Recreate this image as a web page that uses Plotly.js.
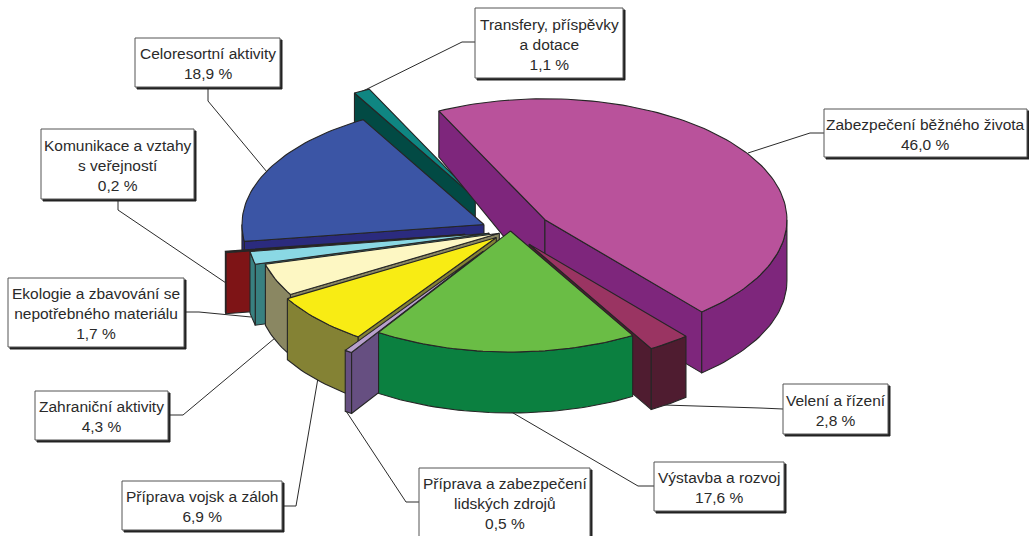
<!DOCTYPE html>
<html><head><meta charset="utf-8">
<script src="https://cdn.plot.ly/plotly-3.0.1.min.js"></script>
<style>html,body{margin:0;padding:0;background:#fff}#c{width:1029px;height:536px}</style>
</head><body><div id="c"></div>
<script>
var categories=['Zabezpečení běžného života','Velení a řízení','Výstavba a rozvoj','Příprava a zabezpečení<br>lidských zdrojů','Příprava vojsk a záloh','Zahraniční aktivity','Ekologie a zbavování se<br>nepotřebného materiálu','Komunikace a vztahy<br>s veřejností','Celoresortní aktivity','Transfery, příspěvky<br>a dotace'];
var values=[46.0,2.8,17.6,0.5,6.9,4.3,1.7,0.2,18.9,1.1];
var explode=[0.17,0.133,0,0.2,0.08,0.05,0.09,0.19,0.122,0.31];
var topColors=['#b9529b','#9a3462','#6abd45','#b8a0cc','#f8ec14','#fdf7c3','#8ad8e4','#8a1a1a','#3b55a5','#0f8682'];
var sideColors=['#7e267c','#4f1c30','#0b8040','#664f81','#848234','#8a8762','#388080','#7e1416','#2b2b7e','#024a44'];
var drawOrder=[9,0,8,7,6,5,4,3,1,2];
var boxes=[[824,109,1027,157],[783,384,888,434],[654,462,784,511],[419,468,590,537],[122,481,282,530],[35,391,168,440],[8,278,184,347],[41,129,194,199],[135,38,280,87],[475,8,623,78]];
var leaders=[[[824,133],[810,133],[748,153]],[[783,409],[760,408],[664,405]],[[654,486],[638,486],[508,410]],[[419,502],[406,502],[346,411]],[[282,506],[296,506],[318,378]],[[168,415],[183,415],[275,338]],[[184,312],[199,312],[251,317]],[[118,199],[118,210],[226,283]],[[208,87],[208,101],[267,172]],[[475,42],[462,42],[359,93]]];

var CX=510.5,CY=231,RX=242,RY=121,START=-26;
function depth(y){return Math.min(61,46+0.2*(y-111));}
function rad(d){return d*Math.PI/180;}
var traces=[],total=values.reduce(function(a,b){return a+b;},0),angles=[],acc=START;
values.forEach(function(v){var a=acc;acc+=v/total*360;angles.push([a,acc]);});
function poly(xs,ys,fill){traces.push({x:xs,y:ys,type:'scatter',mode:'lines',fill:'toself',fillcolor:fill,line:{color:'#262626',width:1.1},hoverinfo:'skip',showlegend:false});}
var shapes=[],annotations=[];
function R(b,dx,fill,lc){return {type:'rect',xref:'x',yref:'y',x0:b[0]+dx,y0:b[1]+dx,x1:b[2]+dx,y1:b[3]+dx,fillcolor:fill,line:{color:lc,width:1},layer:'above'};}
leaders.forEach(function(l){traces.push({x:l.map(function(p){return p[0];}),y:l.map(function(p){return p[1];}),type:'scatter',mode:'lines',line:{color:'#2a2a2a',width:1},hoverinfo:'skip',showlegend:false});});
drawOrder.forEach(function(i){
  var a0=angles[i][0],a1=angles[i][1],mid=rad((a0+a1)/2);
  var ax=CX+explode[i]*RX*Math.sin(mid),ay=CY-explode[i]*RY*Math.cos(mid);
  function P(t,r){return [ax+r*RX*Math.sin(rad(t)),ay-r*RY*Math.cos(rad(t))];}
  function wall(t){var xs=[],ys=[],bx=[],by=[];for(var k=0;k<=24;k++){var p=P(t,k/24);xs.push(p[0]);ys.push(p[1]);bx.unshift(p[0]);by.unshift(p[1]+depth(p[1]));}
    xs=xs.concat(bx);ys=ys.concat(by);xs.push(xs[0]);ys.push(ys[0]);poly(xs,ys,sideColors[i]);}
  if(Math.sin(rad(a0))<0)wall(a0);
  if(Math.sin(rad(a1))>0)wall(a1);
  var f0=Math.max(a0,90),f1=Math.min(a1,270);
  if(a0<-90){var g0=a0+360,g1=Math.min(a1+360,270);if(g1>g0){f0=g0;f1=g1;}}
  if(f1>f0){var xs=[],ys=[],bx=[],by=[],n=Math.max(4,Math.ceil((f1-f0)/1.5));
    for(var k=0;k<=n;k++){var p=P(f0+(f1-f0)*k/n,1);xs.push(p[0]);ys.push(p[1]);bx.unshift(p[0]);by.unshift(p[1]+depth(p[1]));}
    xs=xs.concat(bx);ys=ys.concat(by);xs.push(xs[0]);ys.push(ys[0]);poly(xs,ys,sideColors[i]);}
  var tx=[ax],ty=[ay],m=Math.max(4,Math.ceil((a1-a0)/1.5));
  for(var k=0;k<=m;k++){var q=P(a0+(a1-a0)*k/m,1);tx.push(q[0]);ty.push(q[1]);}
  tx.push(ax);ty.push(ay);poly(tx,ty,topColors[i]);
});
boxes.forEach(function(b,i){
  shapes.push(R(b,2,'#222','#222'));shapes.push(R(b,0,'#fff','#555'));
  annotations.push({xref:'x',yref:'y',x:(b[0]+b[2])/2,y:(b[1]+b[3])/2+1,xanchor:'center',yanchor:'middle',showarrow:false,align:'center',
    text:categories[i]+'<br>'+values[i].toFixed(1).replace('.',',')+' %',font:{family:'"Liberation Sans",Arial,sans-serif',size:15.5,color:'#2a2a2a'}});
});
Plotly.newPlot('c',traces,{width:1029,height:536,margin:{l:0,r:0,t:0,b:0},paper_bgcolor:'#fff',plot_bgcolor:'#fff',showlegend:false,
  xaxis:{range:[0,1029],visible:false,fixedrange:true},yaxis:{range:[536,0],visible:false,fixedrange:true},shapes:shapes,annotations:annotations},{staticPlot:true,displayModeBar:false});
</script></body></html>
